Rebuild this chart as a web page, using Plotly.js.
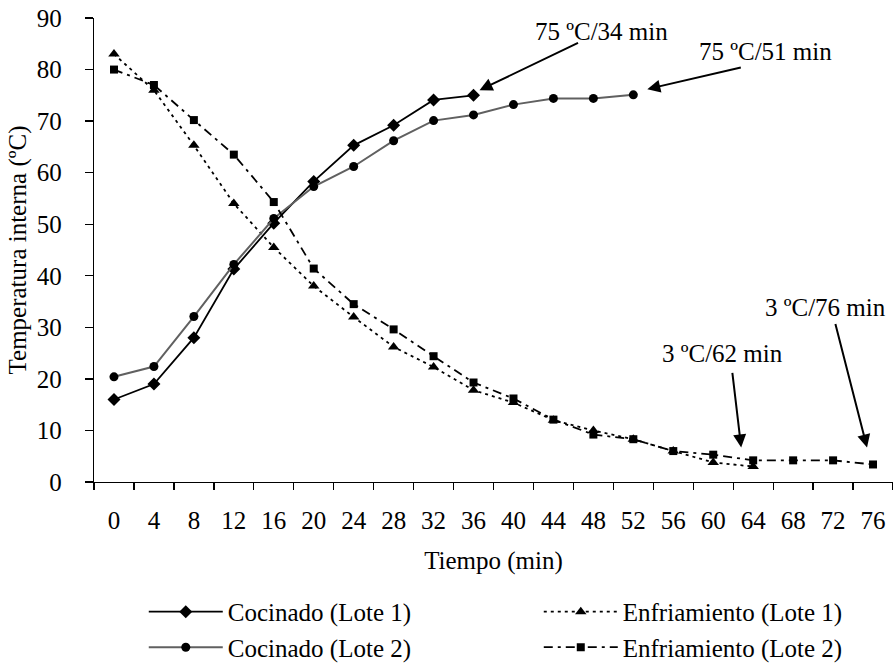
<!DOCTYPE html>
<html>
<head>
<meta charset="utf-8">
<script src="https://cdn.plot.ly/plotly-3.0.1.min.js"></script>
<style>html,body{margin:0;padding:0;background:#fff}#chart{width:893px;height:664px}</style>
</head>
<body>
<div id="chart"></div>
<script>
// Time categories (min)
const tiempo = ["0","4","8","12","16","20","24","28","32","36","40","44","48","52","56","60","64","68","72","76"];
// Internal temperature (ºC)
const cocinadoLote1 = [16, 19, 28, 41.3, 50.2, 58.3, 65.3, 69.2, 74.1, 75];
const cocinadoLote2 = [20.4, 22.4, 32.1, 42.2, 51.1, 57.3, 61.2, 66.2, 70.1, 71.2, 73.2, 74.4, 74.4, 75.1];
const enfriamientoLote1 = [83, 76, 65.3, 54, 45.5, 38, 32, 26.2, 22.3, 17.8, 15.4, 12, 10, 8.3, 6, 3.8, 3];
const enfriamientoLote2 = [80, 77, 70.2, 63.5, 54.3, 41.4, 34.5, 29.6, 24.4, 19.3, 16.2, 12.1, 9.2, 8.3, 6, 5.3, 4.2, 4.2, 4.2, 3.4];
const yTicks = [0,10,20,30,40,50,60,70,80,90];

const FONT = "Liberation Serif, Times New Roman, serif";
const FS = 25;

const traces = [
  {name: "Cocinado (Lote 1)", x: tiempo.slice(0, cocinadoLote1.length), y: cocinadoLote1,
   mode: "lines+markers", line: {color: "#000", width: 1.8},
   marker: {symbol: "diamond", size: 10, color: "#000"}},
  {name: "Enfriamiento (Lote 1)", x: tiempo.slice(0, enfriamientoLote1.length), y: enfriamientoLote1,
   mode: "lines+markers", line: {color: "#000", width: 1.8, dash: "3px,4px"},
   marker: {symbol: "triangle-up", size: 10, color: "#000"}},
  {name: "Cocinado (Lote 2)", x: tiempo.slice(0, cocinadoLote2.length), y: cocinadoLote2,
   mode: "lines+markers", line: {color: "#606060", width: 2},
   marker: {symbol: "circle", size: 9, color: "#000"}},
  {name: "Enfriamiento (Lote 2)", x: tiempo, y: enfriamientoLote2,
   mode: "lines+markers", line: {color: "#000", width: 1.8, dash: "9px,5px,3px,5px"},
   marker: {symbol: "square", size: 8, color: "#000"}}
];

function arrow(xi, yv, ax, ay) {
  return {x: xi, y: yv, xref: "x", yref: "y", ax: ax, ay: ay, text: "",
          showarrow: true, arrowhead: 2, arrowsize: 1.3, arrowwidth: 2, arrowcolor: "#000"};
}
function label(xi, yv, t) {
  return {x: xi, y: yv, xref: "x", yref: "y", text: t, showarrow: false,
          font: {family: FONT, size: FS, color: "#000"}};
}

const layout = {
  width: 893, height: 664,
  margin: {l: 94, r: 0, t: 18, b: 182, pad: 0},
  paper_bgcolor: "#fff", plot_bgcolor: "#fff",
  font: {family: FONT, size: FS, color: "#000"},
  showlegend: true,
  xaxis: {
    type: "category", categoryorder: "array", categoryarray: tiempo,
    range: [-0.5, tiempo.length - 0.5],
    tickson: "boundaries", ticks: "outside", ticklen: 7, tickwidth: 1.3, tickcolor: "#000",
    showline: true, linecolor: "#000", linewidth: 1.3, showgrid: false, zeroline: false,
    ticklabelstandoff: 16,
    tickfont: {family: FONT, size: FS, color: "#000"},
    title: {text: "Tiempo (min)", font: {family: FONT, size: FS, color: "#000"}, standoff: 18}
  },
  yaxis: {
    range: [0, 90], tickvals: yTicks, ticks: "outside", ticklen: 8, tickwidth: 1.3, tickcolor: "#000",
    showline: true, linecolor: "#000", linewidth: 1.3, showgrid: false, zeroline: false,
    ticklabelstandoff: 18,
    tickfont: {family: FONT, size: FS, color: "#000"},
    title: {text: "Temperatura interna (ºC)", font: {family: FONT, size: FS, color: "#000"}, standoff: 3}
  },
  legend: {
    orientation: "h", xref: "container", yref: "container",
    x: 0.161, xanchor: "left", y: 0.113, yanchor: "top",
    font: {family: FONT, size: FS, color: "#000"},
    entrywidthmode: "pixels", entrywidth: 306, itemwidth: 74,
    bgcolor: "rgba(0,0,0,0)"
  },
  annotations: [
    arrow(9.15, 76.0, 100, -48),
    label(12.2, 87.4, "75 ºC/34 min"),
    arrow(13.35, 76.2, 95, -22),
    label(16.3, 83.5, "75 ºC/51 min"),
    arrow(15.7, 6.7, -9, -76),
    label(15.22, 24.9, "3 ºC/62 min"),
    arrow(18.85, 6.7, -32, -125),
    label(17.82, 33.8, "3 ºC/76 min")
  ]
};

Plotly.newPlot("chart", traces, layout, {displayModeBar: false, staticPlot: true});
</script>
</body>
</html>
